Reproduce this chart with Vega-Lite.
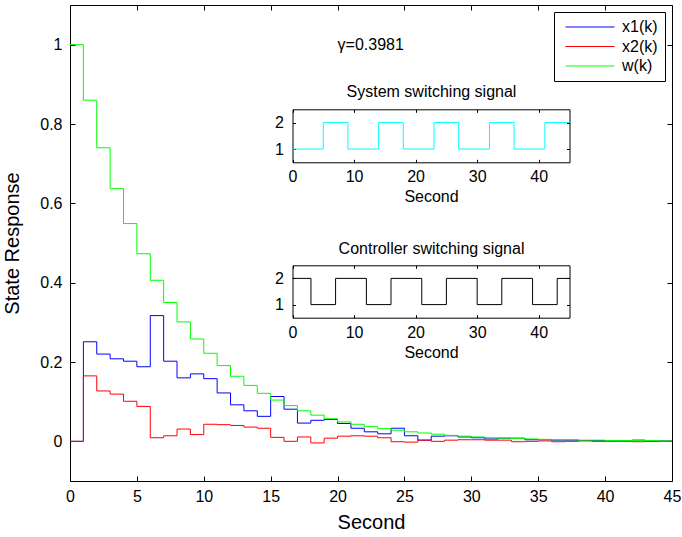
{
  "$schema": "https://vega.github.io/schema/vega-lite/v6.json",
  "width": 602,
  "height": 476,
  "autosize": {"type": "none"},
  "padding": {"left": 70, "top": 5, "right": 10, "bottom": 56},
  "config": {
    "font": "Liberation Sans",
    "view": {"stroke": null},
    "axis": {
      "grid": false,
      "domainColor": "black",
      "domainWidth": 1,
      "tickColor": "black",
      "labelColor": "black",
      "titleColor": "black",
      "labelFont": "Liberation Sans",
      "titleFont": "Liberation Sans",
      "titleFontWeight": "normal",
      "labelFlush": false,
      "labelOverlap": false
    },
    "legend": {"labelFont": "Liberation Sans"}
  },
  "datasets": {
    "main": [
      {"t":0,"x1":0,"x2":0,"w":1},
      {"t":1,"x1":0.251,"x2":0.165,"w":0.86},
      {"t":2,"x1":0.22,"x2":0.127,"w":0.74},
      {"t":3,"x1":0.208,"x2":0.119,"w":0.637},
      {"t":4,"x1":0.202,"x2":0.101,"w":0.549},
      {"t":5,"x1":0.188,"x2":0.088,"w":0.473},
      {"t":6,"x1":0.317,"x2":0.009,"w":0.406},
      {"t":7,"x1":0.202,"x2":0.014,"w":0.35},
      {"t":8,"x1":0.16,"x2":0.031,"w":0.301},
      {"t":9,"x1":0.17,"x2":0.017,"w":0.258},
      {"t":10,"x1":0.158,"x2":0.043,"w":0.222},
      {"t":11,"x1":0.122,"x2":0.042,"w":0.191},
      {"t":12,"x1":0.092,"x2":0.04,"w":0.164},
      {"t":13,"x1":0.077,"x2":0.036,"w":0.141},
      {"t":14,"x1":0.063,"x2":0.033,"w":0.121},
      {"t":15,"x1":0.113,"x2":0.01,"w":0.104},
      {"t":16,"x1":0.081,"x2":0,"w":0.09},
      {"t":17,"x1":0.046,"x2":0.011,"w":0.077},
      {"t":18,"x1":0.053,"x2":-0.004,"w":0.066},
      {"t":19,"x1":0.055,"x2":0.008,"w":0.057},
      {"t":20,"x1":0.045,"x2":0.013,"w":0.049},
      {"t":21,"x1":0.033,"x2":0.014,"w":0.043},
      {"t":22,"x1":0.024,"x2":0.013,"w":0.037},
      {"t":23,"x1":0.019,"x2":0.009,"w":0.032},
      {"t":24,"x1":0.033,"x2":-0.001,"w":0.028},
      {"t":25,"x1":0.014,"x2":-0.002,"w":0.024},
      {"t":26,"x1":0.003,"x2":0.003,"w":0.021},
      {"t":27,"x1":0.013,"x2":0,"w":0.018},
      {"t":28,"x1":0.014,"x2":0.003,"w":0.015},
      {"t":29,"x1":0.011,"x2":0.004,"w":0.013},
      {"t":30,"x1":0.009,"x2":0.004,"w":0.011},
      {"t":31,"x1":0.006,"x2":0.003,"w":0.009},
      {"t":32,"x1":0.008,"x2":0.003,"w":0.008},
      {"t":33,"x1":0.008,"x2":-0.001,"w":0.007},
      {"t":34,"x1":0.004,"x2":0,"w":0.006},
      {"t":35,"x1":0.004,"x2":0.001,"w":0.005},
      {"t":36,"x1":0.003,"x2":-0.001,"w":0.004},
      {"t":37,"x1":0.003,"x2":0,"w":0.004},
      {"t":38,"x1":0.002,"x2":0.001,"w":0.003},
      {"t":39,"x1":0.002,"x2":0,"w":0.003},
      {"t":40,"x1":0.002,"x2":0,"w":0.002},
      {"t":41,"x1":0.002,"x2":0,"w":0.002},
      {"t":42,"x1":0.003,"x2":-0.001,"w":0.002},
      {"t":43,"x1":0.001,"x2":0,"w":0.002},
      {"t":44,"x1":0.001,"x2":0,"w":0.001},
      {"t":45,"x1":0.001,"x2":0,"w":0.001}
    ],
    "sys": [
      {"t":0,"s":1},{"t":5,"s":2},{"t":9,"s":1},{"t":14,"s":2},{"t":18,"s":1},{"t":23,"s":2},
      {"t":27,"s":1},{"t":32,"s":2},{"t":36,"s":1},{"t":41,"s":2},{"t":45,"s":2}
    ],
    "ctrl": [
      {"t":0,"s":2},{"t":3,"s":1},{"t":7,"s":2},{"t":12,"s":1},{"t":16,"s":2},{"t":21,"s":1},
      {"t":25,"s":2},{"t":30,"s":1},{"t":34,"s":2},{"t":39,"s":1},{"t":43,"s":2},{"t":45,"s":2}
    ],
    "note": [{"label": "γ=0.3981"}]
  },
  "layer": [
    {
      "data": {"name": "main"},
      "transform": [{"fold": ["x1", "x2", "w"], "as": ["series", "value"]}],
      "mark": {"type": "line", "interpolate": "step-after", "strokeWidth": 1},
      "encoding": {
        "x": {"field": "t", "type": "quantitative",
          "scale": {"domain": [0, 45], "range": [0, 602], "nice": false, "zero": false},
          "axis": {"orient": "bottom", "offset": 0, "values": [0,5,10,15,20,25,30,35,40,45], "title": "Second",
            "tickSize": -5, "labelPadding": 12, "labelFontSize": 16, "titleFontSize": 20, "titlePadding": 8}},
        "y": {"field": "value", "type": "quantitative",
          "scale": {"domain": [-0.1, 1.1], "range": [476, 0], "nice": false, "zero": false},
          "axis": {"orient": "left", "offset": 0, "values": [0,0.2,0.4,0.6,0.8,1], "format": "~g", "title": "State Response",
            "tickSize": -5, "labelPadding": 13, "labelFontSize": 16, "titleFontSize": 20, "titlePadding": 17}},
        "color": {"field": "series", "type": "nominal",
          "scale": {"domain": ["x1", "x2", "w"], "range": ["#0000ff", "#ff0000", "#00ff00"]},
          "legend": {"orient": "top-right", "offset": 7, "title": null, "labelExpr": "datum.label + '(k)'",
            "strokeColor": "black", "fillColor": "white", "padding": 7,
            "symbolType": "M-4,0H4", "symbolSize": 150, "symbolStrokeWidth": 1,
            "symbolOffset": 21, "labelOffset": 24, "labelFontSize": 16, "rowPadding": 3.5}}
      }
    },
    {
      "data": {"name": "main"},
      "mark": {"type": "point", "opacity": 0},
      "encoding": {
        "x": {"field": "t", "type": "quantitative",
          "scale": {"domain": [0, 45], "range": [0, 602], "nice": false, "zero": false},
          "axis": {"orient": "top", "offset": 0, "values": [0,5,10,15,20,25,30,35,40,45], "labels": false, "title": null, "tickSize": -5}},
        "y": {"field": "w", "type": "quantitative",
          "scale": {"domain": [-0.1, 1.1], "range": [476, 0], "nice": false, "zero": false},
          "axis": {"orient": "right", "offset": 0, "values": [0,0.2,0.4,0.6,0.8,1], "labels": false, "title": null, "tickSize": -5}}
      }
    },
    {
      "layer": [
        {
          "data": {"name": "sys"},
          "mark": {"type": "line", "interpolate": "step-after", "color": "#00ffff", "strokeWidth": 1},
          "encoding": {
            "x": {"field": "t", "type": "quantitative",
              "scale": {"domain": [0, 45], "range": [222.5, 499.5], "nice": false, "zero": false},
              "axis": {"orient": "bottom", "offset": -318.7, "values": [0,10,20,30,40], "title": "Second",
                "tickSize": -3, "labelPadding": 9, "labelFontSize": 16, "titleFontSize": 16, "titlePadding": 4}},
            "y": {"field": "s", "type": "quantitative",
              "scale": {"domain": [0.5, 2.5], "range": [157.3, 104.3], "nice": false, "zero": false},
              "axis": {"orient": "left", "offset": -222.5, "values": [1, 2], "title": null,
                "tickSize": -3, "labelPadding": 12, "labelFontSize": 16}}
          }
        },
        {
          "data": {"name": "sys"},
          "mark": {"type": "point", "opacity": 0},
          "encoding": {
            "x": {"field": "t", "type": "quantitative",
              "scale": {"domain": [0, 45], "range": [222.5, 499.5], "nice": false, "zero": false},
              "axis": {"orient": "top", "offset": -104.3, "values": [0,10,20,30,40], "labels": false,
                "title": "System switching signal", "titleFontSize": 16, "titlePadding": 9, "tickSize": -3}},
            "y": {"field": "s", "type": "quantitative",
              "scale": {"domain": [0.5, 2.5], "range": [157.3, 104.3], "nice": false, "zero": false},
              "axis": {"orient": "right", "offset": -102.5, "values": [1, 2], "labels": false, "title": null, "tickSize": -3}}
          }
        }
      ]
    },
    {
      "layer": [
        {
          "data": {"name": "ctrl"},
          "mark": {"type": "line", "interpolate": "step-after", "color": "black", "strokeWidth": 1},
          "encoding": {
            "x": {"field": "t", "type": "quantitative",
              "scale": {"domain": [0, 45], "range": [222.5, 499.5], "nice": false, "zero": false},
              "axis": {"orient": "bottom", "offset": -163.3, "values": [0,10,20,30,40], "title": "Second",
                "tickSize": -3, "labelPadding": 10, "labelFontSize": 16, "titleFontSize": 16, "titlePadding": 4}},
            "y": {"field": "s", "type": "quantitative",
              "scale": {"domain": [0.5, 2.5], "range": [312.7, 260.3], "nice": false, "zero": false},
              "axis": {"orient": "left", "offset": -222.5, "values": [1, 2], "title": null,
                "tickSize": -3, "labelPadding": 12, "labelFontSize": 16}}
          }
        },
        {
          "data": {"name": "ctrl"},
          "mark": {"type": "point", "opacity": 0},
          "encoding": {
            "x": {"field": "t", "type": "quantitative",
              "scale": {"domain": [0, 45], "range": [222.5, 499.5], "nice": false, "zero": false},
              "axis": {"orient": "top", "offset": -260.3, "values": [0,10,20,30,40], "labels": false,
                "title": "Controller switching signal", "titleFontSize": 16, "titlePadding": 8, "tickSize": -3}},
            "y": {"field": "s", "type": "quantitative",
              "scale": {"domain": [0.5, 2.5], "range": [312.7, 260.3], "nice": false, "zero": false},
              "axis": {"orient": "right", "offset": -102.5, "values": [1, 2], "labels": false, "title": null, "tickSize": -3}}
          }
        }
      ]
    },
    {
      "data": {"name": "note"},
      "mark": {"type": "text", "align": "left", "baseline": "middle", "fontSize": 16, "font": "Liberation Sans", "color": "black"},
      "encoding": {
        "x": {"datum": 20, "type": "quantitative", "scale": {"domain": [0, 45], "nice": false, "zero": false}, "axis": null},
        "y": {"datum": 1.0, "type": "quantitative", "scale": {"domain": [-0.1, 1.1], "nice": false, "zero": false}, "axis": null},
        "text": {"field": "label"}
      }
    }
  ],
  "resolve": {"scale": {"x": "independent", "y": "independent"}}
}
